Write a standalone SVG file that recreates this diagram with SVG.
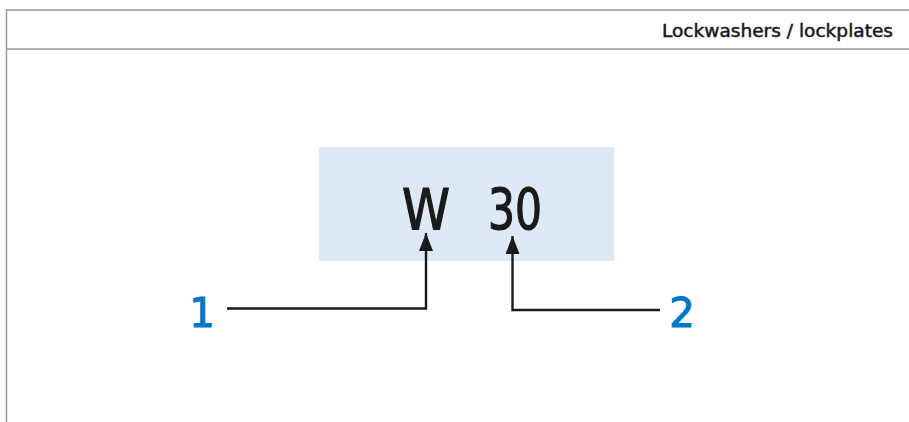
<svg xmlns="http://www.w3.org/2000/svg" width="909" height="422" viewBox="0 0 909 422">
<style>
.frame{fill:none;stroke:#999999;stroke-width:1.5}
.lead{fill:none;stroke:#1a1a1a;stroke-width:2.4}
.code{font-family:"DejaVu Sans Condensed","DejaVu Sans",sans-serif;font-size:57px;fill:#1a1a1a;stroke:#1a1a1a;stroke-width:1.2}
.num{font-family:"DejaVu Sans","Liberation Sans",sans-serif;font-size:40px;fill:#0077c8;stroke:#0077c8;stroke-width:1.1}
.hdr{font-family:"DejaVu Sans Condensed","DejaVu Sans",sans-serif;font-size:17px;fill:#1a1a1a;stroke:#1a1a1a;stroke-width:0.45}
</style>
<defs>
<marker id="arr" viewBox="0 0 18 14" refX="18" refY="7" markerWidth="18" markerHeight="14" markerUnits="userSpaceOnUse" orient="auto">
<path d="M18 7 L0 0 L0 14 Z" fill="#1a1a1a"/>
</marker>
</defs>
<rect width="909" height="422" fill="#ffffff"/>
<g id="frame">
<path class="frame" d="M909 10 H6.5 V422"/>
<path class="frame" d="M6.5 49 H909"/>
<text class="hdr" x="893" y="37" text-anchor="end" textLength="231" lengthAdjust="spacingAndGlyphs">Lockwashers / lockplates</text>
</g>
<g id="code-box">
<rect x="319" y="147" width="295" height="114" fill="#dfe9f6"/>
<text class="code" x="426" y="230" text-anchor="middle" textLength="48" lengthAdjust="spacingAndGlyphs">W</text>
<text class="code" x="515" y="230" text-anchor="middle" textLength="54" lengthAdjust="spacingAndGlyphs">30</text>
</g>
<g id="label-1">
<text class="num" x="202" y="327" text-anchor="middle">1</text>
</g>
<g id="label-2">
<text class="num" x="682" y="327" text-anchor="middle">2</text>
</g>
<g id="connectors">
<path class="lead" d="M227 308.5 H426 V233" marker-end="url(#arr)"/>
<path class="lead" d="M660 310 H512.5 V236" marker-end="url(#arr)"/>
</g>
</svg>
